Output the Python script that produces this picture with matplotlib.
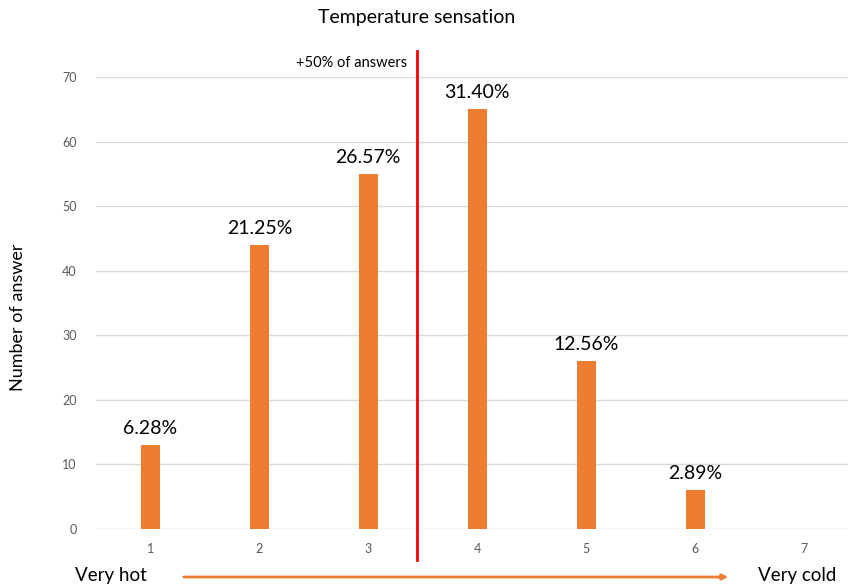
import matplotlib
matplotlib.use("Agg")
import matplotlib.pyplot as plt

plt.rcParams["font.family"] = ["Lato", "DejaVu Sans"]

# data
categories = [1, 2, 3, 4, 5, 6, 7]
answers = [13, 44, 55, 65, 26, 6, 0]
pct_labels = ["6.28%", "21.25%", "26.57%", "31.40%", "12.56%", "2.89%", None]
median_pos = 3.45

W, H = 848, 587
fig = plt.figure(figsize=(W / 100, H / 100), dpi=100)
ax = fig.add_axes([96 / W, 1 - 529 / H, (848 - 96) / W, (529 - 77) / H])

orange = "#ed7d31"
ax.bar(categories, answers, width=0.175, color=orange, zorder=3)
ax.set_xlim(0.5, 7.5 - 10.5 / 109)
ax.set_ylim(0, 70)
ax.set_yticks(range(0, 71, 10))
ax.set_xticks(categories)
ax.grid(axis="y", color="#d9d9d9", lw=1, zorder=0)
for s in ax.spines.values():
    s.set_visible(False)
ax.tick_params(length=0, labelsize=9, colors="#595959", pad=14)
ax.tick_params(axis="x", pad=10)

for x, v, lab in zip(categories, answers, pct_labels):
    if lab:
        ax.annotate(lab, (x, v), xytext=(0, 6), textcoords="offset points",
                    ha="center", va="bottom", fontsize=14, color="black")

ax.plot([median_pos, median_pos], [-4.8, 74], color="red", lw=2,
        clip_on=False, zorder=4)
ax.text(median_pos - 0.09, 72.2, "+50% of answers", ha="right", va="center",
        fontsize=10.5)

fig.text(417 / W, 1 - 18 / H, "Temperature sensation", ha="center", va="center",
         fontsize=14)
fig.text(18 / W, 1 - 317 / H, "Number of answer", rotation=90, ha="center",
         va="center", fontsize=13)
fig.text(75 / W, 1 - 576 / H, "Very hot", ha="left", va="center", fontsize=13.5)
fig.text(836 / W, 1 - 576 / H, "Very cold", ha="right", va="center", fontsize=13.5)
fig.add_artist(matplotlib.patches.FancyArrowPatch(
    (181 / W, 1 - 577 / H), (731 / W, 1 - 577 / H), transform=fig.transFigure,
    arrowstyle="-|>", mutation_scale=8, color=orange, lw=2))

fig.savefig("out.png", dpi=100)
